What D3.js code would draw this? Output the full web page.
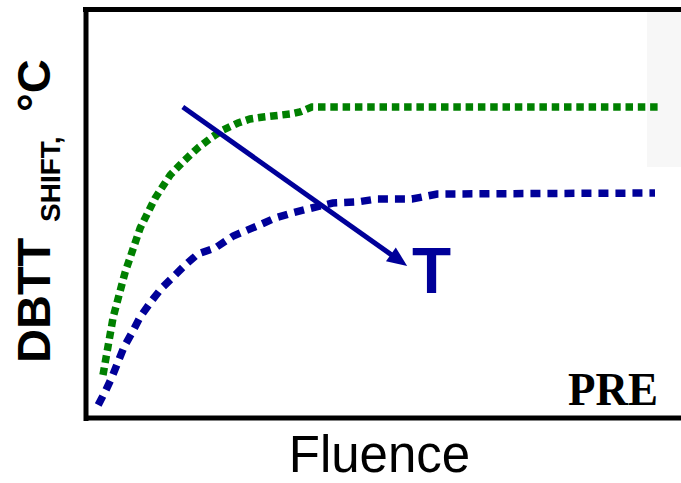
<!DOCTYPE html>
<html>
<head>
<meta charset="utf-8">
<script src="https://cdn.jsdelivr.net/npm/d3@7/dist/d3.min.js"></script>
<style>
  html, body { margin: 0; padding: 0; background: #fff; }
  svg { display: block; }
</style>
</head>
<body>
<svg id="chart" width="681" height="483"></svg>
<script>
// Fluence (arbitrary units) vs. DBTT shift (arbitrary units)
const greenFluence = [0.25, 0.42, 0.62, 0.87, 1.12, 1.37, 1.58, 1.83, 2.07, 2.25, 2.5, 2.7, 2.92, 3.37, 3.53, 3.73, 9.53];
const greenShift   = [10.75, 25.25, 36.5, 47.5, 55, 60.75, 64, 67.5, 70.25, 72, 73.75, 74.75, 75.25, 76, 76.5, 77.75, 77.75];

const blueFluence = [0.17, 0.3, 0.4, 0.5, 0.6, 0.73, 0.87, 1.07, 1.23, 1.4, 1.62, 1.83, 2.12, 2.42, 2.82, 3.12, 3.4, 3.73, 4.08, 4.48, 4.82, 5.4, 5.82, 9.45];
const blueShift   = [3.25, 7, 10.25, 14, 17.75, 21.25, 25.25, 29.5, 32.5, 35, 38.25, 41, 42.5, 45.5, 48, 50, 51.25, 52.5, 53.75, 54, 54.75, 54.75, 56, 56.25];

// Temperature-trend arrow: start and tip, in data units
const arrowFrom = [1.58, 77.75];
const arrowTo   = [5.32, 38];
const arrowLabel = "T";

const xTitle = "Fluence";
const yTitleMain = "DBTT";
const yTitleSub = "SHIFT,";
const yTitleUnit = "°C";
const cornerLabel = "PRE";

const svg = d3.select("#chart");

const x = d3.scaleLinear().domain([0, 9.95]).range([88, 685]);
const y = d3.scaleLinear().domain([0, 102]).range([418, 10]);

// light panel at the upper right
svg.append("rect")
  .attr("x", 647).attr("y", 12)
  .attr("width", 34).attr("height", 155)
  .attr("fill", "#f7f7f7");

// frame: axes without ticks
const axisStyle = g => g.select(".domain")
  .attr("stroke", "#000").attr("stroke-width", 5).attr("stroke-linecap", "square");

svg.append("g")
  .attr("transform", "translate(0,417.5)")
  .call(d3.axisBottom(x).tickValues([]).tickSizeOuter(0))
  .call(axisStyle);

svg.append("g")
  .attr("transform", "translate(85.5,0)")
  .call(d3.axisLeft(y).tickValues([]).tickSizeOuter(0))
  .call(axisStyle);

svg.append("line")
  .attr("x1", 83).attr("x2", 681)
  .attr("y1", 9.5).attr("y2", 9.5)
  .attr("stroke", "#000").attr("stroke-width", 5);

// curves
const line = d3.line().x(d => x(d[0])).y(d => y(d[1]));

const greenData = greenFluence.map((f, i) => [f, greenShift[i]]);
const blueData = blueFluence.map((f, i) => [f, blueShift[i]]);

svg.append("path")
  .datum(greenData)
  .attr("d", line)
  .attr("fill", "none")
  .attr("stroke", "#008000")
  .attr("stroke-width", 7.5)
  .attr("stroke-dasharray", "7.5,4.8");

svg.append("path")
  .datum(blueData)
  .attr("d", line)
  .attr("fill", "none")
  .attr("stroke", "#000099")
  .attr("stroke-width", 7.5)
  .attr("stroke-dasharray", "10,7");

// arrow
const ax0 = x(arrowFrom[0]), ay0 = y(arrowFrom[1]);
const ax1 = x(arrowTo[0]), ay1 = y(arrowTo[1]);
const ang = Math.atan2(ay1 - ay0, ax1 - ax0);
const headLen = 20, headHalf = 8.5;
const bx = ax1 - headLen * Math.cos(ang), by = ay1 - headLen * Math.sin(ang);

svg.append("line")
  .attr("x1", ax0).attr("y1", ay0)
  .attr("x2", bx + 2 * Math.cos(ang)).attr("y2", by + 2 * Math.sin(ang))
  .attr("stroke", "#000099").attr("stroke-width", 5);

svg.append("polygon")
  .attr("points", [
    [ax1, ay1],
    [bx - headHalf * Math.sin(ang), by + headHalf * Math.cos(ang)],
    [bx + headHalf * Math.sin(ang), by - headHalf * Math.cos(ang)]
  ].map(p => p.join(",")).join(" "))
  .attr("fill", "#000099");

svg.append("text")
  .attr("x", x(5.4)).attr("y", y(31.25))
  .attr("font-family", "Liberation Sans, Arial, sans-serif")
  .attr("font-weight", "bold")
  .attr("font-size", 64)
  .attr("fill", "#000099")
  .text(arrowLabel);

// corner label
svg.append("text")
  .attr("x", 568).attr("y", 405)
  .attr("font-family", "Liberation Serif, Times New Roman, serif")
  .attr("font-weight", "bold")
  .attr("font-size", 47)
  .attr("textLength", 90)
  .attr("lengthAdjust", "spacingAndGlyphs")
  .attr("fill", "#000")
  .text(cornerLabel);

// axis titles
svg.append("text")
  .attr("x", 379.5).attr("y", 472)
  .attr("text-anchor", "middle")
  .attr("font-family", "Liberation Sans, Arial, sans-serif")
  .attr("font-size", 51)
  .attr("fill", "#000")
  .text(xTitle);

const yTitle = (txt, bx, by, size) => svg.append("text")
  .attr("transform", `translate(${bx},${by}) rotate(-90)`)
  .attr("font-family", "Liberation Sans, Arial, sans-serif")
  .attr("font-weight", "bold")
  .attr("font-size", size)
  .attr("fill", "#000")
  .text(txt);

yTitle(yTitleMain, 50, 363, 47);
yTitle(yTitleSub, 60, 222, 28);
yTitle(yTitleUnit, 50, 112, 47);
</script>
</body>
</html>
